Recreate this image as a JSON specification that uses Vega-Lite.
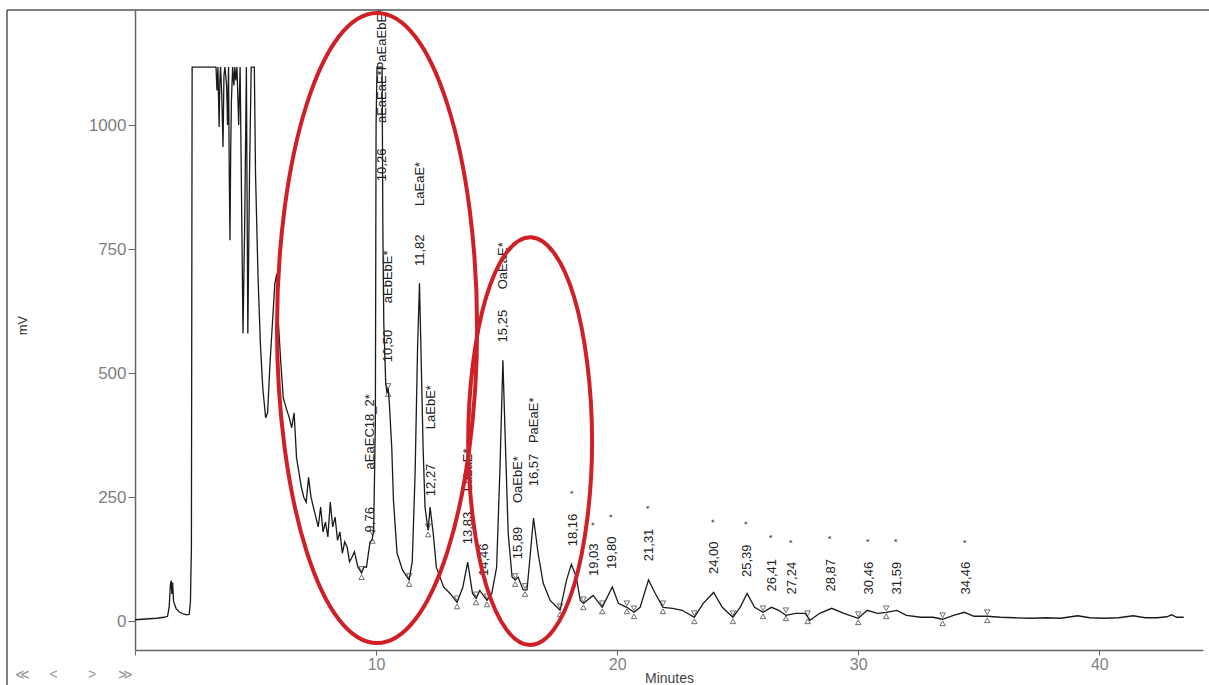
{
  "$schema": "https://vega.github.io/schema/vega-lite/v6.json",
  "width": 1068,
  "height": 640,
  "autosize": {"type": "none"},
  "padding": {"left": 135, "top": 10, "right": 6, "bottom": 35},
  "background": "white",
  "config": {"view": {"stroke": null}, "font": "Liberation Sans"},
  "datasets": {
    "trace": [
      {"t":0,"v":3},{"t":0.3,"v":4},{"t":0.6,"v":5},{"t":0.9,"v":6},{"t":1.2,"v":8},{"t":1.35,"v":10},{"t":1.42,"v":30},{"t":1.47,"v":75},{"t":1.5,"v":82},{"t":1.53,"v":55},{"t":1.56,"v":78},{"t":1.6,"v":40},{"t":1.7,"v":26},{"t":1.85,"v":18},{"t":2.0,"v":15},{"t":2.15,"v":13},{"t":2.25,"v":14},{"t":2.3,"v":40},{"t":2.34,"v":150},{"t":2.37,"v":1117},{"t":3.36,"v":1117},{"t":3.4,"v":1070},{"t":3.44,"v":1117},{"t":3.47,"v":1040},{"t":3.49,"v":996},{"t":3.52,"v":1090},{"t":3.55,"v":1117},{"t":3.6,"v":1060},{"t":3.65,"v":956},{"t":3.69,"v":1100},{"t":3.73,"v":1117},{"t":3.8,"v":1080},{"t":3.84,"v":1000},{"t":3.88,"v":1117},{"t":3.91,"v":900},{"t":3.94,"v":768},{"t":3.97,"v":950},{"t":4.0,"v":1050},{"t":4.05,"v":1117},{"t":4.1,"v":1080},{"t":4.14,"v":1117},{"t":4.18,"v":1090},{"t":4.23,"v":1117},{"t":4.3,"v":1000},{"t":4.36,"v":1117},{"t":4.42,"v":850},{"t":4.48,"v":580},{"t":4.55,"v":800},{"t":4.62,"v":1117},{"t":4.68,"v":580},{"t":4.75,"v":900},{"t":4.82,"v":1117},{"t":4.95,"v":1117},{"t":5.0,"v":900},{"t":5.1,"v":700},{"t":5.2,"v":560},{"t":5.3,"v":470},{"t":5.42,"v":410},{"t":5.5,"v":420},{"t":5.6,"v":520},{"t":5.7,"v":600},{"t":5.8,"v":680},{"t":5.88,"v":700},{"t":5.95,"v":600},{"t":6.05,"v":520},{"t":6.15,"v":450},{"t":6.3,"v":425},{"t":6.4,"v":410},{"t":6.5,"v":390},{"t":6.6,"v":420},{"t":6.7,"v":330},{"t":6.8,"v":300},{"t":6.9,"v":270},{"t":7.0,"v":250},{"t":7.1,"v":240},{"t":7.2,"v":290},{"t":7.3,"v":250},{"t":7.45,"v":220},{"t":7.6,"v":190},{"t":7.7,"v":230},{"t":7.8,"v":180},{"t":7.9,"v":200},{"t":8.0,"v":170},{"t":8.1,"v":240},{"t":8.2,"v":190},{"t":8.3,"v":210},{"t":8.4,"v":163},{"t":8.5,"v":180},{"t":8.6,"v":137},{"t":8.7,"v":160},{"t":8.8,"v":149},{"t":8.9,"v":120},{"t":9.0,"v":129},{"t":9.1,"v":140},{"t":9.25,"v":109},{"t":9.4,"v":97},{"t":9.5,"v":110},{"t":9.6,"v":109},{"t":9.75,"v":160},{"t":9.83,"v":163},{"t":9.9,"v":183},{"t":9.97,"v":400},{"t":10.0,"v":1000},{"t":10.04,"v":1117},{"t":10.25,"v":1117},{"t":10.28,"v":800},{"t":10.32,"v":600},{"t":10.4,"v":480},{"t":10.45,"v":460},{"t":10.5,"v":470},{"t":10.55,"v":440},{"t":10.65,"v":350},{"t":10.72,"v":244},{"t":10.87,"v":137},{"t":11.1,"v":103},{"t":11.37,"v":83},{"t":11.5,"v":120},{"t":11.62,"v":300},{"t":11.72,"v":550},{"t":11.8,"v":681},{"t":11.86,"v":550},{"t":11.95,"v":350},{"t":12.03,"v":230},{"t":12.16,"v":183},{"t":12.24,"v":230},{"t":12.37,"v":177},{"t":12.5,"v":109},{"t":12.8,"v":69},{"t":13.07,"v":56},{"t":13.36,"v":38},{"t":13.6,"v":69},{"t":13.8,"v":119},{"t":14.0,"v":56},{"t":14.15,"v":46},{"t":14.3,"v":62},{"t":14.6,"v":42},{"t":14.8,"v":56},{"t":15.0,"v":109},{"t":15.14,"v":310},{"t":15.26,"v":526},{"t":15.35,"v":379},{"t":15.48,"v":177},{"t":15.64,"v":89},{"t":15.77,"v":83},{"t":15.89,"v":89},{"t":16.1,"v":63},{"t":16.26,"v":63},{"t":16.4,"v":137},{"t":16.53,"v":208},{"t":16.72,"v":137},{"t":16.93,"v":77},{"t":17.22,"v":42},{"t":17.63,"v":22},{"t":17.9,"v":83},{"t":18.1,"v":115},{"t":18.3,"v":90},{"t":18.47,"v":42},{"t":18.6,"v":36},{"t":19.0,"v":52},{"t":19.38,"v":28},{"t":19.8,"v":69},{"t":20.05,"v":36},{"t":20.4,"v":28},{"t":20.7,"v":18},{"t":20.95,"v":28},{"t":21.3,"v":83},{"t":21.58,"v":56},{"t":21.9,"v":28},{"t":22.3,"v":26},{"t":22.7,"v":22},{"t":23.2,"v":8},{"t":23.57,"v":36},{"t":24.0,"v":58},{"t":24.36,"v":28},{"t":24.8,"v":8},{"t":25.1,"v":28},{"t":25.39,"v":56},{"t":25.7,"v":28},{"t":26.05,"v":18},{"t":26.4,"v":28},{"t":26.7,"v":22},{"t":27.0,"v":12},{"t":27.4,"v":16},{"t":27.8,"v":16},{"t":28.0,"v":2},{"t":28.4,"v":16},{"t":28.9,"v":26},{"t":29.4,"v":16},{"t":30.0,"v":6},{"t":30.37,"v":22},{"t":30.8,"v":16},{"t":31.16,"v":18},{"t":31.6,"v":22},{"t":32.0,"v":12},{"t":32.6,"v":8},{"t":33.1,"v":8},{"t":33.5,"v":4},{"t":33.95,"v":12},{"t":34.4,"v":18},{"t":34.8,"v":10},{"t":35.35,"v":10},{"t":35.9,"v":8},{"t":36.5,"v":7},{"t":37.2,"v":6},{"t":37.8,"v":7},{"t":38.4,"v":6},{"t":39.1,"v":11},{"t":39.6,"v":7},{"t":40.2,"v":6},{"t":40.8,"v":7},{"t":41.4,"v":11},{"t":41.9,"v":7},{"t":42.4,"v":7},{"t":42.8,"v":9},{"t":43.0,"v":13},{"t":43.2,"v":8},{"t":43.5,"v":8}
    ],
    "markers": [
      {"t":9.4,"v":97},{"t":9.85,"v":170},{"t":10.5,"v":466},{"t":11.37,"v":83},{"t":12.16,"v":183},{"t":13.36,"v":38},{"t":14.15,"v":46},{"t":14.6,"v":42},{"t":15.77,"v":83},{"t":16.18,"v":63},{"t":17.63,"v":22},{"t":18.6,"v":36},{"t":19.38,"v":28},{"t":20.4,"v":28},{"t":20.7,"v":18},{"t":21.9,"v":28},{"t":23.2,"v":8},{"t":24.8,"v":8},{"t":26.05,"v":18},{"t":27.0,"v":14},{"t":27.9,"v":8},{"t":30.0,"v":6},{"t":31.16,"v":18},{"t":33.5,"v":4},{"t":35.35,"v":10}
    ],
    "times": [
      {"t":9.76,"v":177,"s":"9,76"},{"t":10.26,"v":885,"s":"10,26"},{"t":10.5,"v":520,"s":"10,50"},{"t":11.82,"v":714,"s":"11,82"},{"t":12.27,"v":250,"s":"12,27"},{"t":13.83,"v":153,"s":"13,83"},{"t":14.46,"v":89,"s":"14,46"},{"t":15.25,"v":560,"s":"15,25"},{"t":15.89,"v":123,"s":"15,89"},{"t":16.57,"v":270,"s":"16,57"},{"t":18.16,"v":149,"s":"18,16"},{"t":19.03,"v":89,"s":"19,03"},{"t":19.8,"v":103,"s":"19,80"},{"t":21.31,"v":119,"s":"21,31"},{"t":24.0,"v":93,"s":"24,00"},{"t":25.39,"v":87,"s":"25,39"},{"t":26.41,"v":58,"s":"26,41"},{"t":27.24,"v":52,"s":"27,24"},{"t":28.87,"v":58,"s":"28,87"},{"t":30.46,"v":52,"s":"30,46"},{"t":31.59,"v":52,"s":"31,59"},{"t":34.46,"v":52,"s":"34,46"}
    ],
    "names": [
      {"t":9.76,"v":298,"s":"aEaEC18_2*"},{"t":10.26,"v":996,"s":"aEaEaE*PaEaEbE*"},{"t":10.5,"v":633,"s":"aEbEbE*"},{"t":11.82,"v":829,"s":"LaEaE*"},{"t":12.27,"v":379,"s":"LaEbE*"},{"t":13.83,"v":254,"s":"LaLaE*"},{"t":15.25,"v":661,"s":"OaEaE*"},{"t":15.89,"v":230,"s":"OaEbE*"},{"t":16.57,"v":351,"s":"PaEaE*"}
    ],
    "stars": [
      {"t":18.16,"v":268},{"t":19.03,"v":204},{"t":19.8,"v":220},{"t":21.31,"v":238},{"t":24.0,"v":210},{"t":25.39,"v":206},{"t":26.41,"v":179},{"t":27.24,"v":169},{"t":28.87,"v":177},{"t":30.46,"v":171},{"t":31.59,"v":171},{"t":34.46,"v":169}
    ],
    "ellipses": [
      {"e":1,"i":0,"t":14.19,"v":591},{"e":1,"i":1,"t":13.87,"v":834},{"e":1,"i":2,"t":12.97,"v":1040},{"e":1,"i":3,"t":11.63,"v":1178},{"e":1,"i":4,"t":10.04,"v":1226},{"e":1,"i":5,"t":8.45,"v":1178},{"e":1,"i":6,"t":7.11,"v":1040},{"e":1,"i":7,"t":6.21,"v":834},{"e":1,"i":8,"t":5.89,"v":591},{"e":1,"i":9,"t":6.21,"v":348},{"e":1,"i":10,"t":7.11,"v":142},{"e":1,"i":11,"t":8.45,"v":4},{"e":1,"i":12,"t":10.04,"v":-44},{"e":1,"i":13,"t":11.63,"v":4},{"e":1,"i":14,"t":12.97,"v":142},{"e":1,"i":15,"t":13.87,"v":348},
      {"e":2,"i":0,"t":18.96,"v":363},{"e":2,"i":1,"t":18.76,"v":520},{"e":2,"i":2,"t":18.21,"v":654},{"e":2,"i":3,"t":17.37,"v":743},{"e":2,"i":4,"t":16.39,"v":774},{"e":2,"i":5,"t":15.41,"v":743},{"e":2,"i":6,"t":14.57,"v":654},{"e":2,"i":7,"t":14.02,"v":520},{"e":2,"i":8,"t":13.82,"v":363},{"e":2,"i":9,"t":14.02,"v":206},{"e":2,"i":10,"t":14.57,"v":72},{"e":2,"i":11,"t":15.41,"v":-17},{"e":2,"i":12,"t":16.39,"v":-48},{"e":2,"i":13,"t":17.37,"v":-17},{"e":2,"i":14,"t":18.21,"v":72},{"e":2,"i":15,"t":18.76,"v":206}
    ],
    "frame": [
      {"t":-5.31,"t2":44.55,"v":1232,"v2":1232,"w":"top"},
      {"t":-5.31,"t2":-5.31,"v":1232,"v2":-130,"w":"left"}
    ],
    "nav": [
      {"t":-4.98,"v":-109,"s":"≪"},{"t":-3.55,"v":-109,"s":"<"},{"t":-1.95,"v":-109,"s":">"},{"t":-0.7,"v":-109,"s":"≫"}
    ]
  },
  "encoding": {
    "x": {
      "field": "t", "type": "quantitative",
      "scale": {"domain": [0, 44.3], "nice": false, "zero": false},
      "axis": {
        "values": [0, 10, 20, 30, 40],
        "labelExpr": "datum.value == 0 ? '' : datum.label",
        "grid": false, "domainColor": "#666", "domainWidth": 1.5,
        "tickColor": "#666", "tickSize": 5,
        "labelColor": "#808080", "labelFontSize": 16, "labelPadding": 1,
        "title": "Minutes", "titleFontSize": 14, "titleFontWeight": "normal",
        "titleColor": "#444", "titleY": 28, "titleBaseline": "middle"
      }
    },
    "y": {
      "field": "v", "type": "quantitative",
      "scale": {"domain": [-58, 1232], "nice": false, "zero": false},
      "axis": {
        "values": [0, 250, 500, 750, 1000],
        "format": "d",
        "grid": false, "domainColor": "#666", "domainWidth": 1.5,
        "tickColor": "#666", "tickSize": 7,
        "labelColor": "#808080", "labelFontSize": 17, "labelPadding": 2,
        "title": "mV", "titleFontSize": 13, "titleFontWeight": "normal",
        "titleColor": "#333", "titleAngle": 270, "titleX": -113, "titleY": 315,
        "titleAlign": "center", "titleBaseline": "middle"
      }
    }
  },
  "layer": [
    {"data": {"name": "trace"}, "mark": {"type": "line", "color": "#1a1a1a", "strokeWidth": 1.3}},
    {"data": {"name": "markers"}, "mark": {"type": "point", "shape": "triangle-down", "size": 30, "filled": false, "color": "#333", "strokeWidth": 1, "yOffset": -4}},
    {"data": {"name": "markers"}, "mark": {"type": "point", "shape": "triangle-up", "size": 30, "filled": false, "color": "#333", "strokeWidth": 1, "yOffset": 4}},
    {"data": {"name": "times"}, "mark": {"type": "text", "angle": 270, "align": "left", "baseline": "middle", "fontSize": 13, "color": "#222", "dx": 1}, "encoding": {"text": {"field": "s"}}},
    {"data": {"name": "names"}, "mark": {"type": "text", "angle": 270, "align": "left", "baseline": "middle", "fontSize": 13, "color": "#222", "dx": 4}, "encoding": {"text": {"field": "s"}}},
    {"data": {"name": "stars"}, "mark": {"type": "text", "angle": 270, "align": "center", "baseline": "middle", "fontSize": 9, "color": "#222", "dx": -4, "text": "*"}},
    {"data": {"name": "ellipses"}, "mark": {"type": "line", "interpolate": "cardinal-closed", "color": "#cf2027", "strokeWidth": 4}, "encoding": {"detail": {"field": "e"}, "order": {"field": "i"}}},
    {"data": {"name": "frame"}, "mark": {"type": "rule", "color": "#555", "strokeWidth": 1.5}, "encoding": {"x2": {"field": "t2"}, "y2": {"field": "v2"}}},
    {"data": {"name": "nav"}, "mark": {"type": "text", "align": "left", "baseline": "middle", "fontSize": 14, "color": "#999"}, "encoding": {"text": {"field": "s"}}}
  ]
}
